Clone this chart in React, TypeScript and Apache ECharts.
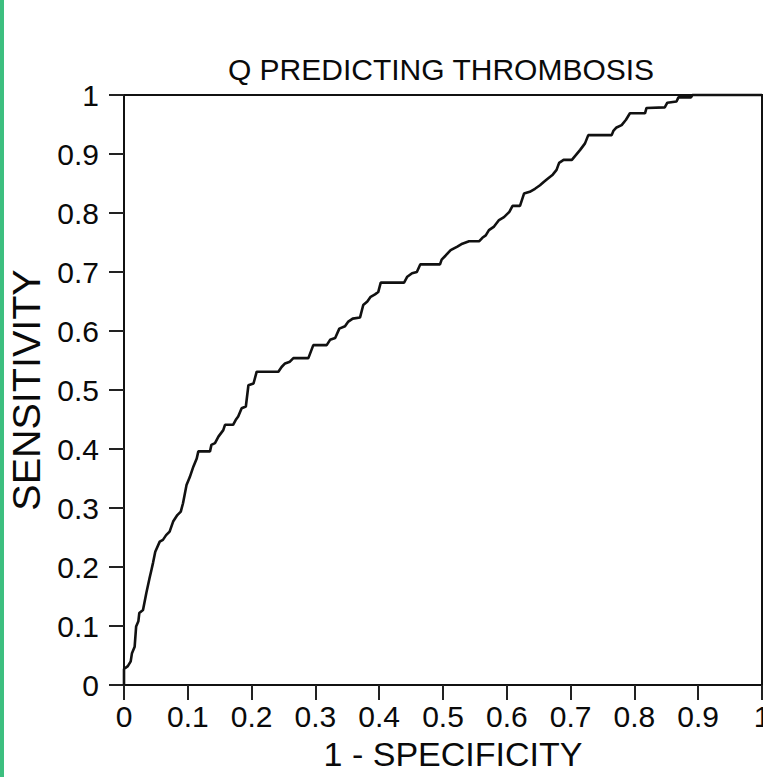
import React, { useEffect, useRef } from "react";
import * as echarts from "echarts";

const title = "Q PREDICTING THROMBOSIS";
const xName = "1 - SPECIFICITY";
const yName = "SENSITIVITY";

const fpr = [
  0, 0, 0.006, 0.0105, 0.0125, 0.0167, 0.019, 0.0225, 0.024, 0.0298, 0.035, 0.04, 0.043, 0.0455,
  0.049, 0.056, 0.061, 0.066, 0.0715, 0.077, 0.0836, 0.089, 0.0925, 0.098, 0.103, 0.1087, 0.114,
  0.1165, 0.1348, 0.137, 0.1426, 0.148, 0.1556, 0.1583, 0.171, 0.175, 0.179, 0.1844, 0.191, 0.195,
  0.203, 0.208, 0.242, 0.247, 0.2524, 0.26, 0.2655, 0.289, 0.2967, 0.3177, 0.323, 0.331, 0.3375,
  0.3464, 0.3516, 0.3585, 0.37, 0.375, 0.3814, 0.3866, 0.3934, 0.3985, 0.4024, 0.439, 0.444,
  0.4515, 0.459, 0.4645, 0.4953, 0.4979, 0.5042, 0.512, 0.5225, 0.5303, 0.5408, 0.5565, 0.5617,
  0.567, 0.572, 0.58, 0.5878, 0.5956, 0.604, 0.609, 0.6207, 0.627, 0.636, 0.6442, 0.652, 0.6583,
  0.665, 0.672, 0.678, 0.682, 0.689, 0.702, 0.715, 0.7226, 0.7277, 0.7644, 0.767, 0.772, 0.78,
  0.7868, 0.793, 0.8166, 0.819, 0.8476, 0.8516, 0.866, 0.869, 0.8887, 0.891, 1,
];

const sensitivity = [
  0, 0.027, 0.032, 0.04, 0.054, 0.065, 0.099, 0.108, 0.122, 0.127, 0.156, 0.181, 0.195, 0.207,
  0.226, 0.243, 0.246, 0.254, 0.26, 0.277, 0.288, 0.294, 0.308, 0.339, 0.352, 0.37, 0.384,
  0.396, 0.396, 0.407, 0.41, 0.421, 0.432, 0.441, 0.441, 0.449, 0.455, 0.469, 0.472, 0.508,
  0.511, 0.531, 0.531, 0.539, 0.545, 0.548, 0.554, 0.554, 0.576, 0.576, 0.585, 0.588, 0.604,
  0.608, 0.616, 0.621, 0.623, 0.644, 0.65, 0.658, 0.662, 0.666, 0.682, 0.682, 0.692,
  0.698, 0.7, 0.713, 0.713, 0.721, 0.728, 0.737, 0.743, 0.748, 0.752, 0.752, 0.758,
  0.762, 0.771, 0.777, 0.788, 0.793, 0.802, 0.812, 0.812, 0.833, 0.836, 0.841, 0.847, 0.853,
  0.859, 0.865, 0.873, 0.885, 0.89, 0.89, 0.907, 0.918, 0.932, 0.932, 0.939, 0.945, 0.949,
  0.958, 0.969, 0.969, 0.978, 0.979, 0.987, 0.989, 0.996, 0.996, 1, 1,
];

const FONT = "'Liberation Sans', Arial, Helvetica, sans-serif";

export default function App() {
  const ref = useRef<HTMLDivElement>(null);
  useEffect(() => {
    if (!ref.current) return;
    const chart = echarts.init(ref.current, undefined, { renderer: "svg" });
    const data = fpr.map((x, i) => [x, sensitivity[i]]);
    chart.setOption({
      animation: false,
      backgroundColor: "#ffffff",
      grid: {
        left: 124,
        top: 95,
        right: 1,
        bottom: 92,
        containLabel: false,
        outerBoundsMode: "none",
        show: true,
        borderColor: "#111",
        borderWidth: 2,
        backgroundColor: "transparent",
      },
      graphic: [
        { type: "rect", left: 0, top: 0, shape: { width: 4, height: 777 }, style: { fill: "#3dbf7f" } },
        {
          type: "text",
          x: 441,
          y: 69,
          style: {
            text: title,
            font: `30px ${FONT}`,
            fill: "#0a0a0a",
            textAlign: "center",
            textVerticalAlign: "middle",
          },
        },
      ],
      xAxis: {
        type: "value",
        min: 0,
        max: 1,
        interval: 0.1,
        name: xName,
        nameLocation: "middle",
        nameGap: 52,
        nameTextStyle: { fontSize: 34, fontFamily: FONT, color: "#0a0a0a", padding: [0, 0, 0, 20] },
        axisLine: { show: true, onZero: false, lineStyle: { color: "#111", width: 2 } },
        axisTick: { show: true, length: 15, lineStyle: { color: "#222", width: 2 } },
        axisLabel: { margin: 16, fontSize: 30, fontFamily: FONT, color: "#0a0a0a" },
        splitLine: { show: false },
      },
      yAxis: {
        type: "value",
        min: 0,
        max: 1,
        interval: 0.1,
        name: yName,
        nameLocation: "middle",
        nameGap: 76,
        nameTextStyle: { fontSize: 39.5, fontFamily: FONT, color: "#0a0a0a" },
        axisLine: { show: true, onZero: false, lineStyle: { color: "#111", width: 2 } },
        axisTick: { show: true, length: 15, lineStyle: { color: "#222", width: 2 } },
        axisLabel: { margin: 25, fontSize: 30, fontFamily: FONT, color: "#0a0a0a" },
        splitLine: { show: false },
      },
      series: [
        {
          type: "line",
          data,
          showSymbol: false,
          symbol: "none",
          lineStyle: { color: "#111", width: 2.6 },
          clip: false,
        },
      ],
    });
    return () => chart.dispose();
  }, []);
  return (
    <div
      ref={ref}
      style={{ position: "fixed", left: 0, top: 0, width: 763, height: 777, background: "#fff" }}
    />
  );
}
